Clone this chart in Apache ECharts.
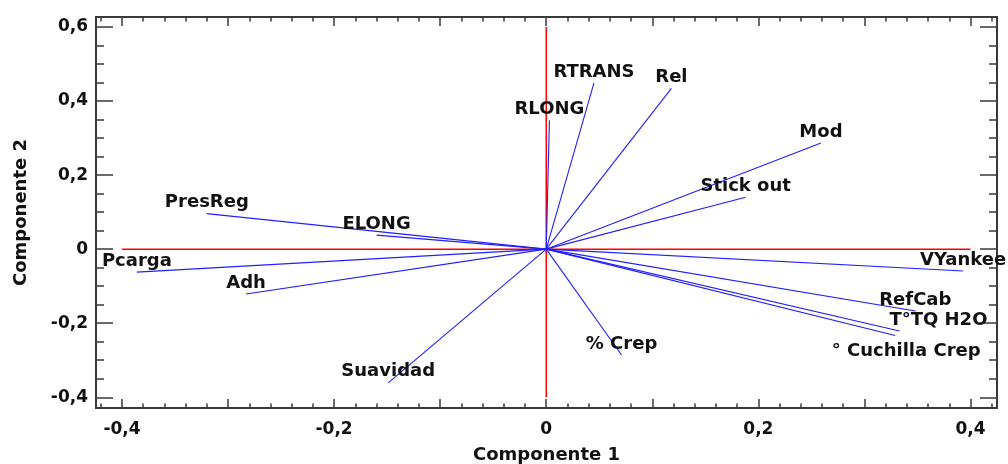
<!DOCTYPE html>
<html>
<head>
<meta charset="utf-8">
<script src="https://cdn.jsdelivr.net/npm/echarts@6/dist/echarts.min.js"></script>
<style>
html,body{margin:0;padding:0;background:#fff;}
#chart{width:1008px;height:464px;}
</style>
</head>
<body>
<div id="chart"></div>
<script>
// ---- data ----
const varNames = ['RTRANS','Rel','RLONG','Mod','Stick out','VYankee','RefCab','T°TQ H2O','° Cuchilla Crep','PresReg','ELONG','Pcarga','Adh','Suavidad','% Crep'];
const comp1 = [0.045, 0.118, 0.003, 0.259, 0.188, 0.393, 0.348, 0.333, 0.329, -0.320, -0.160, -0.386, -0.283, -0.149, 0.071];
const comp2 = [0.449, 0.434, 0.348, 0.287, 0.140, -0.059, -0.167, -0.221, -0.233, 0.096, 0.038, -0.062, -0.121, -0.361, -0.286];
const hRefLine = [[-0.4, 0], [0.4, 0]];
const vRefLine = [[0, -0.4], [0, 0.6]];
const xLabelValues = [-0.4, -0.2, 0, 0.2, 0.4];
const yLabelValues = [-0.4, -0.2, 0, 0.2, 0.4, 0.6];
const xMajorTicks = [-0.4, -0.3, -0.2, -0.1, 0, 0.1, 0.2, 0.3, 0.4];
const xMinorTicks = [-0.42,-0.38,-0.36,-0.34,-0.32,-0.28,-0.26,-0.24,-0.22,-0.18,-0.16,-0.14,-0.12,-0.08,-0.06,-0.04,-0.02,0.02,0.04,0.06,0.08,0.12,0.14,0.16,0.18,0.22,0.24,0.26,0.28,0.32,0.34,0.36,0.38,0.42];
const yMajorTicks = [-0.4, -0.2, 0, 0.2, 0.4, 0.6];
const yMinorTicks = [-0.35,-0.3,-0.25,-0.15,-0.1,-0.05,0.05,0.1,0.15,0.25,0.3,0.35,0.45,0.5,0.55];

// ---- styling ----
const X_MIN = -0.4245, X_MAX = 0.425, Y_MIN = -0.429, Y_MAX = 0.627;
const FONT = '"DejaVu Sans", sans-serif';
const frameColor = '#3a3a3a';
const labelShift = { 'T°TQ H2O': [39, 0], '° Cuchilla Crep': [11, 27] };

const fmt = v => {
  const r = Math.round(v * 10) / 10;
  return r === 0 ? '0' : String(r).replace('.', ',');
};

function xAxisDef(pos, ticks, len, withLabels, extra) {
  return Object.assign({
    type: 'value', position: pos, min: X_MIN, max: X_MAX,
    axisLine: { show: false, onZero: false },
    splitLine: { show: false },
    axisTick: { show: true, inside: true, length: len, customValues: ticks, lineStyle: { color: frameColor, width: 1.5 } },
    axisLabel: withLabels ? {
      show: true, customValues: xLabelValues, formatter: fmt, margin: 13,
      color: '#111', fontFamily: FONT, fontWeight: 'bold', fontSize: 17
    } : { show: false }
  }, extra || {});
}
function yAxisDef(pos, ticks, len, withLabels, extra) {
  return Object.assign({
    type: 'value', position: pos, min: Y_MIN, max: Y_MAX,
    axisLine: { show: false, onZero: false },
    splitLine: { show: false },
    axisTick: { show: true, inside: true, length: len, customValues: ticks, lineStyle: { color: frameColor, width: 1.5 } },
    axisLabel: withLabels ? {
      show: true, customValues: yLabelValues, formatter: fmt, margin: 8,
      color: '#111', fontFamily: FONT, fontWeight: 'bold', fontSize: 17
    } : { show: false }
  }, extra || {});
}

const chart = echarts.init(document.getElementById('chart'), null, { renderer: 'canvas' });

const vectorData = varNames.map((n, i) => [comp1[i], comp2[i]]);

chart.setOption({
  backgroundColor: '#ffffff',
  animation: false,
  grid: {
    left: 96, right: 11, top: 17, bottom: 56,
    containLabel: false, outerBoundsMode: 'none',
    show: true, borderColor: frameColor, borderWidth: 2, backgroundColor: 'transparent'
  },
  xAxis: [
    xAxisDef('bottom', xMajorTicks, 9, true, {
      name: 'Componente 1', nameLocation: 'middle', nameGap: 38,
      nameTextStyle: { color: '#111', fontFamily: FONT, fontWeight: 'bold', fontSize: 18 }
    }),
    xAxisDef('bottom', xMinorTicks, 4.5, false),
    xAxisDef('top', xMajorTicks, 9, false),
    xAxisDef('top', xMinorTicks, 4.5, false)
  ],
  yAxis: [
    yAxisDef('left', yMajorTicks, 17, true, {
      name: 'Componente 2', nameLocation: 'middle', nameGap: 66, nameRotate: 90,
      nameTextStyle: { color: '#111', fontFamily: FONT, fontWeight: 'bold', fontSize: 18 }
    }),
    yAxisDef('left', yMinorTicks, 8, false),
    yAxisDef('right', yMajorTicks, 17, false),
    yAxisDef('right', yMinorTicks, 8, false)
  ],
  series: [
    {
      type: 'line', xAxisIndex: 0, yAxisIndex: 0, data: hRefLine,
      symbol: 'none', silent: true, lineStyle: { color: '#ff0000', width: 1.5 }, z: 1
    },
    {
      type: 'line', xAxisIndex: 0, yAxisIndex: 0, data: vRefLine,
      symbol: 'none', silent: true, lineStyle: { color: '#ff0000', width: 1.5 }, z: 1
    },
    {
      type: 'custom', xAxisIndex: 0, yAxisIndex: 0, data: vectorData, z: 3, clip: false,
      renderItem: function (params, api) {
        const o = api.coord([0, 0]);
        const p = api.coord([api.value(0), api.value(1)]);
        const name = varNames[params.dataIndex];
        const sh = labelShift[name] || [0, 0];
        return {
          type: 'group',
          children: [
            { type: 'line', shape: { x1: o[0], y1: o[1], x2: p[0], y2: p[1] },
              style: { stroke: '#1f1fff', lineWidth: 1.1 } },
            { type: 'text', x: p[0] + sh[0], y: p[1] - 2 + sh[1],
              style: { text: name, fill: '#111', font: 'bold 18px ' + FONT, align: 'center', verticalAlign: 'bottom' } }
          ]
        };
      }
    }
  ]
});
</script>
</body>
</html>
